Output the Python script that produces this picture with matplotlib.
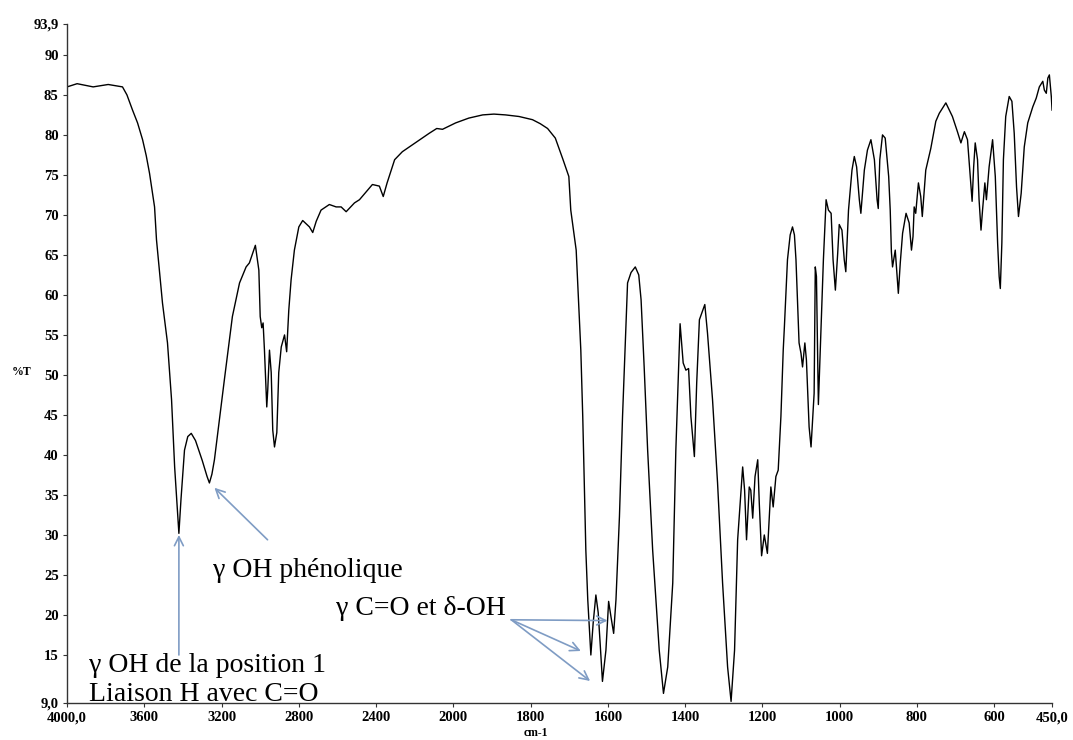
import numpy as np
import matplotlib
matplotlib.use("Agg")
import matplotlib.pyplot as plt

# IR spectrum (wavenumber cm-1, %T)
wavenumber = [4000, 3948, 3865, 3787, 3713, 3690, 3661, 3635, 3609, 3590, 3573, 3547, 3537,
              3506, 3480, 3459, 3443, 3430, 3421, 3410, 3392, 3375, 3357, 3335, 3300, 3275,
              3263, 3250, 3237, 3185, 3144, 3107, 3073, 3056, 3025,
              3007, 3000, 2992, 2985, 2978, 2966, 2961, 2952, 2943, 2935, 2926, 2914, 2904,
              2891, 2874, 2863, 2852, 2840, 2823, 2800, 2780, 2745, 2728, 2710, 2685, 2642,
              2607, 2581, 2555, 2512, 2486, 2419, 2383, 2363, 2343, 2304, 2264, 2185, 2125,
              2086, 2056, 1994, 1960, 1924, 1895, 1865, 1830, 1795, 1775, 1756, 1736, 1716,
              1701, 1696, 1682, 1674,
              1670, 1665, 1661, 1657, 1652, 1644, 1638, 1631, 1625, 1620, 1614, 1605, 1598,
              1592, 1585, 1579, 1570, 1562, 1549, 1540, 1529, 1520, 1514, 1506, 1497, 1484,
              1467, 1456,
              1445, 1432, 1424, 1413, 1405, 1398, 1391, 1385, 1376, 1370, 1363, 1349, 1342,
              1329, 1316, 1303, 1290, 1281, 1272, 1264, 1251, 1246, 1241, 1234, 1230, 1225,
              1219, 1212, 1208, 1202, 1195, 1187, 1178, 1172, 1165, 1159, 1152, 1146, 1143,
              1135, 1128, 1122, 1117, 1113, 1105, 1100, 1096, 1090, 1086, 1079, 1074, 1066,
              1063, 1060,
              1055, 1048, 1042, 1035, 1029, 1022, 1017, 1011, 1005, 1001, 994, 988, 984, 977,
              968, 962, 956, 949, 945, 936, 928, 919, 910, 903, 900, 896, 889, 882, 873, 869,
              866, 863, 856, 853, 848, 843, 837, 828, 820, 814, 810, 807, 803, 796, 790, 786,
              777, 768, 764, 751, 742, 725, 708, 695, 686, 677, 669, 663, 657, 653, 649, 643,
              639, 634, 630, 624, 620, 613, 604, 597, 591, 587, 584, 580, 576, 570, 561, 554,
              548, 542, 537, 530, 522, 513, 500, 491, 483, 474, 470, 465, 461, 457, 452, 450]
transmittance = [86.0, 86.4, 86.0, 86.3, 86.0, 85.0, 83.1, 81.5, 79.4, 77.4, 75.2, 71.0, 66.9,
                 59.0, 54.0, 46.9, 38.5, 33.5, 30.2, 34.5, 40.6, 42.3, 42.7, 41.8, 39.3, 37.3,
                 36.5, 37.6, 39.4, 49.5, 57.3, 61.5, 63.5, 64.0, 66.2,
                 63.1, 57.3, 55.9, 56.5, 53.1, 46.0, 48.1, 53.1, 50.3, 43.1, 41.0, 42.8, 50.3,
                 53.5, 55.0, 52.9, 58.1, 61.9, 65.6, 68.5, 69.3, 68.5, 67.8, 69.2, 70.6, 71.3,
                 71.0, 71.0, 70.4, 71.5, 71.9, 73.8, 73.6, 72.3, 74.0, 76.9, 77.9, 79.2, 80.2,
                 80.8, 80.7, 81.5, 82.1, 82.5, 82.6, 82.5, 82.3, 81.9, 81.4, 80.8, 79.6, 76.9,
                 74.8, 70.6, 65.6, 57.3,
                 53.1, 44.8, 36.5, 28.1, 21.9, 15.0, 19.0, 22.5, 20.3, 16.5, 11.7, 15.6, 21.7,
                 19.8, 17.7, 21.9, 32.3, 44.8, 61.5, 62.8, 63.5, 62.5, 59.4, 51.0, 40.6, 28.1,
                 15.6, 10.2,
                 13.5, 24.0, 40.6, 56.4, 51.5, 50.6, 50.8, 44.8, 39.8, 49.0, 56.9, 58.8, 55.2,
                 46.9, 36.5, 24.0, 13.5, 9.2, 15.6, 29.4, 38.5, 35.6, 29.4, 36.0, 35.6, 32.1,
                 37.3, 39.4, 34.0, 27.4, 30.0, 27.7, 36.0, 33.5, 37.3, 38.1, 44.8, 53.1, 56.0,
                 64.4, 67.5, 68.5, 67.5, 64.4, 54.0, 52.7, 51.0, 54.0, 51.9, 43.5, 41.0, 47.7,
                 63.5, 62.3,
                 46.3, 56.0, 64.4, 71.9, 70.6, 70.2, 64.4, 60.6, 65.2, 68.8, 68.1, 64.4, 62.9, 70.6,
                 75.6, 77.3, 76.0, 71.9, 70.2, 75.6, 78.1, 79.4, 76.9, 71.9, 70.8, 76.9, 80.0, 79.6,
                 74.8, 70.6, 65.4, 63.5, 65.6, 63.5, 60.2, 64.0, 67.7, 70.2, 69.0, 65.6, 67.3, 71.0,
                 70.2, 74.0, 72.3, 69.8, 75.6, 77.5, 78.3, 81.7, 82.7, 84.0, 82.3, 80.4, 79.0,
                 80.4, 79.4, 75.6, 71.7, 76.0, 79.0, 76.9, 71.9, 68.1, 70.6, 74.0, 71.9, 76.0,
                 79.4, 74.8, 66.5, 62.3, 60.8, 66.5, 76.9, 82.3, 84.8, 84.2, 80.2, 73.5, 69.8,
                 72.7, 78.5, 81.5, 83.5, 84.6, 86.0, 86.7, 85.6, 85.2, 87.1, 87.5, 84.8, 83.1]

xticks = [4000, 3600, 3200, 2800, 2400, 2000, 1800, 1600, 1400, 1200, 1000, 800, 600, 450]
xticklabels = ["4000,0", "3600", "3200", "2800", "2400", "2000", "1800", "1600", "1400",
               "1200", "1000", "800", "600", "450,0"]
yticks = [9.0, 15, 20, 25, 30, 35, 40, 45, 50, 55, 60, 65, 70, 75, 80, 85, 90, 93.9]
yticklabels = ["9,0"] + [str(v) for v in yticks[1:-1]] + ["93,9"]


# scale halves above 2000 cm-1, as on the spectrometer print-out
def fwd(w):
    w = np.asarray(w, dtype=float)
    return np.where(w > 2000, 2000 + (w - 2000) / 2.0, w)


def inv(u):
    u = np.asarray(u, dtype=float)
    return np.where(u > 2000, 2000 + (u - 2000) * 2.0, u)


serif = "Liberation Serif"
arrow_col = "#7f9cc4"

fig = plt.figure(figsize=(10.73, 7.40), dpi=100)
ax = fig.add_axes([0.0625, 0.05, 0.918, 0.918])

ax.plot(wavenumber, transmittance, color="black", lw=1.0)
ax.set_xscale("function", functions=(fwd, inv))
ax.set_xlim(4000, 450)
ax.set_ylim(9.0, 93.9)

ax.set_xticks(xticks)
ax.set_xticklabels(xticklabels, fontfamily=serif, fontweight="bold", fontsize=10.5)
ax.set_yticks(yticks)
ax.set_yticklabels(yticklabels, fontfamily=serif, fontweight="bold", fontsize=10.5)
ax.minorticks_off()
ax.tick_params(axis="both", length=3, width=0.8, color="#333333", pad=3)

for s in ["top", "right"]:
    ax.spines[s].set_visible(False)
for s in ["left", "bottom"]:
    ax.spines[s].set_color("#333333")
    ax.spines[s].set_linewidth(1.0)

fig.text(536 / 1073, 1 - 733 / 740, "cm-1", fontfamily=serif, fontweight="bold",
         fontsize=8.5, ha="center", va="center")
fig.text(22 / 1073, 1 - 372 / 740, "%T", fontfamily=serif, fontweight="bold",
         fontsize=8.5, ha="center", va="center")

# annotations
arw = dict(arrowstyle="->", color=arrow_col, lw=1.2, shrinkA=0, shrinkB=0,
           mutation_scale=16)
ax.annotate("", xy=(3421, 30.0), xytext=(3421, 15.0), arrowprops=arw)
ax.annotate("", xy=(3237, 35.9), xytext=(2962, 29.4), arrowprops=arw)
ax.annotate("", xy=(1601, 19.3), xytext=(1850, 19.4), arrowprops=arw)
ax.annotate("", xy=(1670, 15.5), xytext=(1850, 19.4), arrowprops=arw)
ax.annotate("", xy=(1646, 11.75), xytext=(1850, 19.4), arrowprops=arw)

ax.text(3246, 25.6, "γ OH phénolique", fontfamily=serif, fontsize=20, va="center")
ax.text(2605, 20.75, "γ C=O et δ-OH", fontfamily=serif, fontsize=20, va="center")
ax.text(3884, 13.7, "γ OH de la position 1", fontfamily=serif, fontsize=20, va="center")
ax.text(3884, 10.1, "Liaison H avec C=O", fontfamily=serif, fontsize=20, va="center")

fig.savefig("out.png", dpi=100)
